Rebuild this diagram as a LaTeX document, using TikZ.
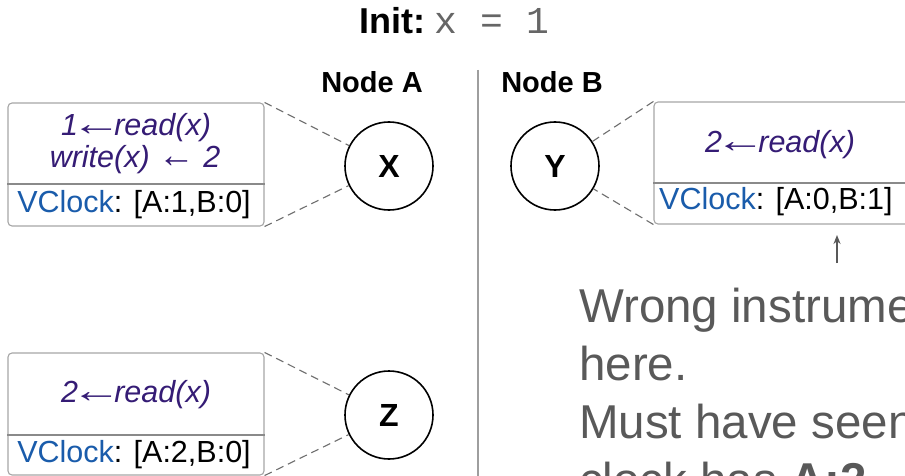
\documentclass[tikz,border=0pt]{standalone}
\usepackage{fontspec}
\setmainfont{Liberation Sans}
\setmonofont{Liberation Mono}
\usetikzlibrary{arrows.meta}

\definecolor{oppurple}{HTML}{351C75}
\definecolor{clockblue}{HTML}{1A5CAB}
\definecolor{boxgray}{HTML}{A6A6A6}
\definecolor{divgray}{HTML}{8A8A8A}
\definecolor{notegray}{HTML}{595959}
\definecolor{codegray}{HTML}{666666}
\definecolor{rulegray}{HTML}{9E9E9E}
\definecolor{linkgray}{HTML}{6E6E6E}

\tikzset{
  site/.style={circle, draw, line width=1.6pt, minimum size=88pt, inner sep=0pt,
    font=\fontsize{32}{34}\selectfont\bfseries},
  logbox/.style={draw=boxgray, line width=1.1pt, rounded corners=4pt, inner sep=0pt},
  divider/.style={draw=divgray, line width=1.1pt},
  optext/.style={inner sep=0pt, text=oppurple, font=\fontsize{30.5}{34}\selectfont\itshape},
  clocktext/.style={inner sep=0pt, font=\fontsize{30.5}{34}\selectfont},
  header/.style={inner sep=0pt, font=\fontsize{29}{32}\selectfont\bfseries},
  link/.style={draw=linkgray, line width=1.1pt, dash pattern=on 8pt off 5pt},
  note/.style={inner sep=0pt, text=notegray, align=left,
    font=\fontsize{47.5}{58}\selectfont}
}

\newcommand{\vclock}[1]{\textcolor{clockblue}{VClock}: [#1]}
% long thin arrow of a read, shorter one of a write
\newcommand{\readarrow}{\kern-7pt\scalebox{1.65}[1.15]{\upshape ←}\kern-7pt}
\newcommand{\writearrow}{\scalebox{1.2}[1.2]{\upshape ←}}

\begin{document}
\begin{tikzpicture}[x=1pt, y=-1pt]
  \useasboundingbox (0,0) rectangle (905,476);
  \clip (0,0) rectangle (905,476);
  \fill[white] (0,0) rectangle (905,476);

  % title and column headers
  \node[inner sep=0pt, anchor=base] (init) at (454,34)
    {\fontsize{36}{40}\selectfont\bfseries Init:\ \mdseries\ttfamily\fontsize{38}{40}\selectfont\textcolor{codegray}{x = 1}};
  \node[header] (headA) at (372,82) {Node A};
  \node[header] (headB) at (552,82) {Node B};

  % column separator
  \coordinate (sepTop) at (478,70);
  \coordinate (sepBot) at (478,476);
  \draw[rulegray, line width=1.8pt] (sepTop) -- (sepBot);

  % sites
  \node[site] (X) at (389,166) {X};
  \node[site] (Y) at (555,166) {Y};
  \node[site] (Z) at (389,415) {Z};

  % log of X
  \node[logbox, minimum width=256pt, minimum height=123pt] (boxX) at (136,164.5) {};
  \draw[divider] (boxX.west |- 0,184) -- (boxX.east |- 0,184);
  \node[optext] (opX1) at (136,128) {1\readarrow read(x)};
  \node[optext] (opX2) at (135,160) {write(x) \writearrow{} 2};
  \node[clocktext] (clkX) at (134,205) {\vclock{A:1,B:0}};

  % log of Y
  \node[logbox, minimum width=262pt, minimum height=122pt] (boxY) at (785,163) {};
  \draw[divider] (boxY.west |- 0,183) -- (boxY.east |- 0,183);
  \node[optext] (opY1) at (780,145) {2\readarrow read(x)};
  \node[clocktext, anchor=west] (clkY) at (659,202) {\vclock{A:0,B:1}};

  % log of Z
  \node[logbox, minimum width=256pt, minimum height=122pt] (boxZ) at (136,414) {};
  \draw[divider] (boxZ.west |- 0,435) -- (boxZ.east |- 0,435);
  \node[optext] (opZ1) at (136,395) {2\readarrow read(x)};
  \node[clocktext] (clkZ) at (134,455) {\vclock{A:2,B:0}};

  % links between sites and their logs
  \draw[link] (boxX.north east) -- (X);
  \draw[link] (boxX.south east) -- (X);
  \draw[link] (boxY.north west) -- (Y);
  \draw[link] (boxY.south west) -- (Y);
  \draw[link] (boxZ.north east) -- (Z);
  \draw[link] (boxZ.south east) -- (Z);

  % remark on the clock of Y
  \coordinate (tail) at (837,263);
  \coordinate (tip) at (837,235);
  \draw[-{Stealth[length=9pt,width=7pt]}, notegray, line width=1.6pt] (tail) -- (tip);
  \node[note, anchor=north west] (remark) at (579,288)
    {Wrong instrumentation\\here.\\Must have seen\\clock has \textbf{A:2}};
\end{tikzpicture}
\end{document}
